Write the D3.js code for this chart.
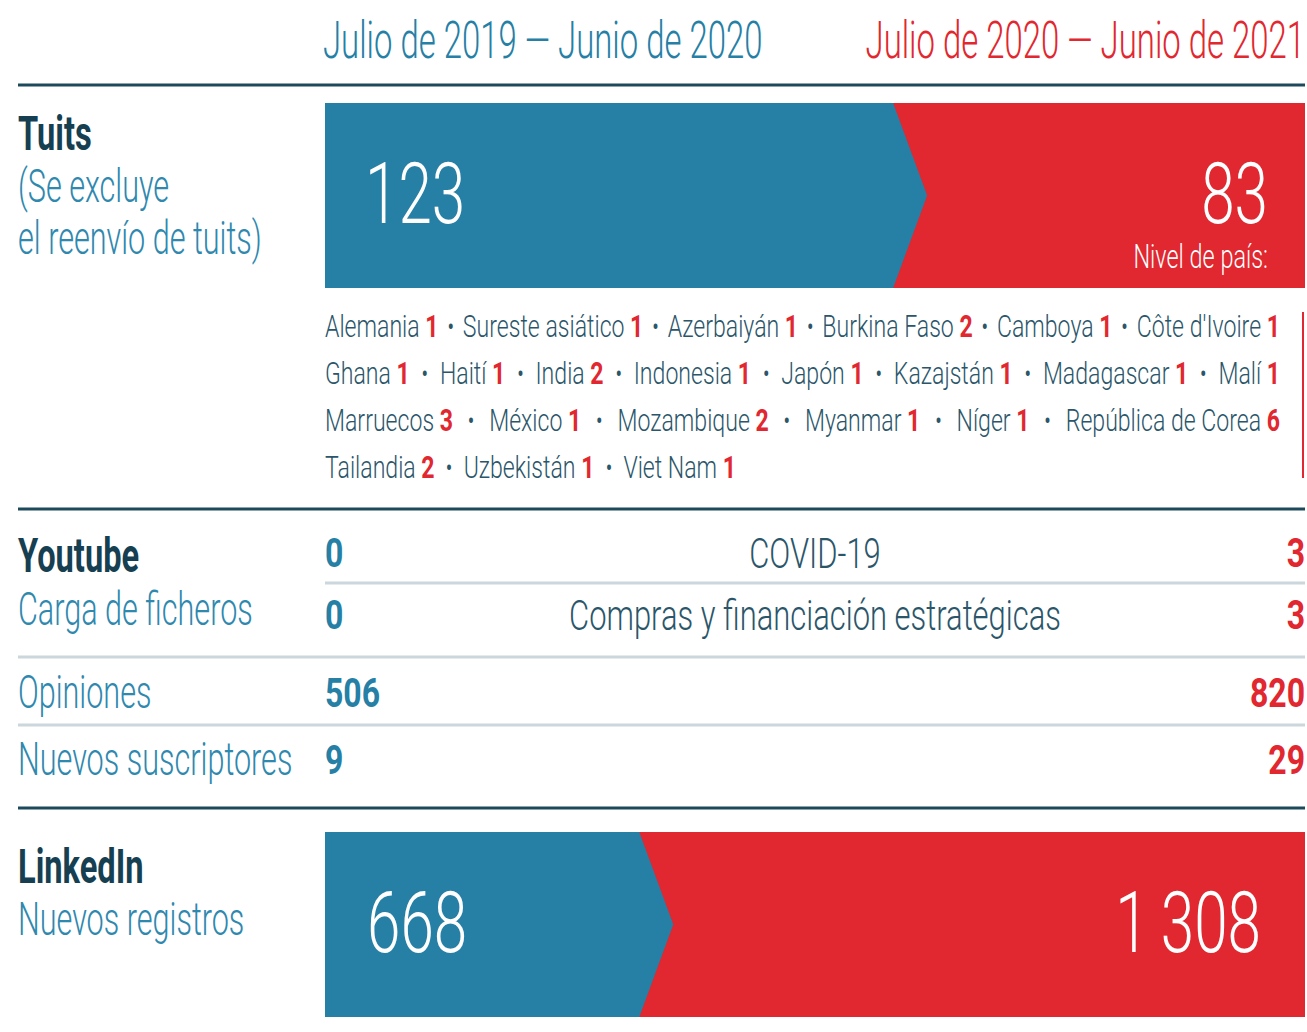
<!DOCTYPE html>
<html>
<head>
<meta charset="utf-8">
<script src="https://cdn.jsdelivr.net/npm/d3@7"></script>
<style>
  body { margin: 0; background: #fff; }
  svg { display: block; }
</style>
</head>
<body>
<svg id="chart"></svg>
<script>
// periods compared
var periods = ["Julio de 2019 — Junio de 2020", "Julio de 2020 — Junio de 2021"];

// Tuits
var tweetLabel = ["Tuits", "(Se excluye", "el reenvío de tuits)"];
var tweets = [123, 83];
var countries = ["Alemania", "Sureste asiático", "Azerbaiyán", "Burkina Faso", "Camboya", "Côte d'Ivoire",
	"Ghana", "Haití", "India", "Indonesia", "Japón", "Kazajstán", "Madagascar", "Malí",
	"Marruecos", "México", "Mozambique", "Myanmar", "Níger", "República de Corea",
	"Tailandia", "Uzbekistán", "Viet Nam"];
var countryCounts = [1, 1, 1, 2, 1, 1,
	1, 1, 2, 1, 1, 1, 1, 1,
	3, 1, 2, 1, 1, 6,
	2, 1, 1];
var countryRows = [6, 8, 6, 3];

// Youtube
var uploadTopics = ["COVID-19", "Compras y financiación estratégicas"];
var uploads = [[0, 3], [0, 3]];
var ytStats = ["Opiniones", "Nuevos suscriptores"];
var ytStatValues = [[506, 820], [9, 29]];

// LinkedIn
var linkedin = [668, 1308];

var colors = {
	"blue" : "#267fa5",
	"red" : "#e1272f",
	"dark" : "#163f51",
	"text" : "#2b566a",
	"label" : "#2f88ae",
	"rule" : "#1c4a5c",
	"thin" : "#cbd7dc"
};

var W = 1307, H = 1032;
var FONT = "Roboto, 'Noto Sans', sans-serif";
// horizontal squeeze per text kind, stands in for the condensed face
var sq = {
	"head" : 0.645,
	"bold" : 0.68,
	"label" : 0.665,
	"big" : 0.70,
	"list" : 0.745,
	"topic" : 0.72,
	"num" : 0.78,
	"note" : 0.69
};

var svg = d3.select("#chart").attr("width", W).attr("height", H);

var fmt = d3.formatLocale({ decimal: ",", thousands: "\u2009", grouping: [3], currency: ["", ""] }).format(",d");

// full width and the data columns
var left = 18, right = 1305, colX = 325;
var x = d3.scaleLinear().domain([0, 1]).range([colX, right]);

// condensed text: a squeezed group anchored at (px, py)
function ctext(parent, px, py, str, size, weight, clr, anchor, sx) {
	var g = parent.append("g")
		.attr("transform", "translate(" + px + "," + py + ") scale(" + sx + ",1)");
	var t = g.append("text")
		.attr("x", 0)
		.attr("y", 0)
		.attr("text-anchor", anchor || "start")
		.attr("font-family", FONT)
		.attr("font-size", size + "px")
		.attr("font-weight", weight)
		.style("fill", clr)
		.text(str);
	return t;
}

function rule(y, clr, sw, x0) {
	svg.append("line")
		.attr("x1", x0).attr("x2", right)
		.attr("y1", y).attr("y2", y)
		.attr("stroke", clr)
		.attr("stroke-width", sw);
}

// header
ctext(svg, colX - 2, 58, periods[0], 51, 300, colors.blue, "start", sq.head);
ctext(svg, right, 58, periods[1], 51, 300, colors.red, "end", sq.head);
rule(85, colors.rule, 3, left);

// chevron band: blue share vs red share
function band(y0, y1, vals) {
	var share = vals[0] / (vals[0] + vals[1]);
	var split = x(share);
	var ym = (y0 + y1) / 2, half = 17;
	svg.append("rect")
		.attr("x", x(0)).attr("y", y0)
		.attr("width", x(1) - x(0)).attr("height", y1 - y0)
		.style("fill", colors.red);
	svg.append("path")
		.attr("d", d3.line()([[x(0), y0], [split - half, y0], [split + half, ym], [split - half, y1], [x(0), y1]]) + "Z")
		.style("fill", colors.blue);
}

// Tuits
band(103, 288, tweets);
ctext(svg, left, 150, tweetLabel[0], 48, 700, colors.dark, "start", sq.bold);
ctext(svg, left, 202, tweetLabel[1], 46, 300, colors.label, "start", sq.label);
ctext(svg, left, 254, tweetLabel[2], 46, 300, colors.label, "start", sq.label);
ctext(svg, 365, 223, fmt(tweets[0]), 86, 300, "#fff", "start", sq.big);
ctext(svg, 1268, 223, fmt(tweets[1]), 86, 300, "#fff", "end", sq.big);
ctext(svg, 1268, 268, "Nivel de país:", 34, 300, "#fff", "end", sq.note);

// country list, justified rows
var listRight = 1280, rowGap = 47, firstBase = 337;
var natGap = 29;
var idx = 0;
countryRows.forEach(function(n, r) {
	var items = [];
	var yb = firstBase + r * rowGap;
	for (var k = 0; k < n; k++, idx++) {
		var t = ctext(svg, 0, yb, "", 31, 300, colors.text, "start", sq.list);
		t.append("tspan").text(countries[idx] + " ");
		t.append("tspan").attr("font-weight", 700).style("fill", colors.red).text(countryCounts[idx]);
		items.push({ node: t, w: t.node().getComputedTextLength() * sq.list });
	}
	var total = d3.sum(items, function(d) { return d.w; });
	var last = r === countryRows.length - 1;
	var gap = last ? natGap : (listRight - colX - total) / (n - 1);
	var cx = colX;
	items.forEach(function(d, k) {
		d3.select(d.node.node().parentNode)
			.attr("transform", "translate(" + cx + "," + yb + ") scale(" + sq.list + ",1)");
		cx += d.w;
		if (k < n - 1) {
			ctext(svg, cx + gap / 2, yb - 1, "•", 26, 400, colors.text, "middle", sq.list);
			cx += gap;
		}
	});
});
svg.append("line")
	.attr("x1", 1303).attr("x2", 1303)
	.attr("y1", 312).attr("y2", 478)
	.attr("stroke", colors.red)
	.attr("stroke-width", 2);

rule(509, colors.rule, 3, left);

// Youtube
ctext(svg, left, 572, "Youtube", 48, 700, colors.dark, "start", sq.bold);
ctext(svg, left, 625, "Carga de ficheros", 46, 300, colors.label, "start", sq.label);
var uploadBase = [567, 629];
uploadTopics.forEach(function(topic, i) {
	var yb = uploadBase[i];
	ctext(svg, colX, yb, fmt(uploads[i][0]), 41, 700, colors.blue, "start", sq.num);
	ctext(svg, x(0.5), yb + 1, topic, 43, 300, colors.text, "middle", sq.topic);
	ctext(svg, right, yb, fmt(uploads[i][1]), 41, 700, colors.red, "end", sq.num);
});
rule(583, colors.thin, 3, colX);
rule(657, colors.thin, 3, left);

var statBase = [708, 775];
ytStats.forEach(function(lbl, i) {
	var yb = statBase[i];
	ctext(svg, left, yb, lbl, 46, 300, colors.label, "start", sq.label);
	ctext(svg, colX, yb - 1, fmt(ytStatValues[i][0]), 41, 700, colors.blue, "start", sq.num);
	ctext(svg, right, yb - 1, fmt(ytStatValues[i][1]), 41, 700, colors.red, "end", sq.num);
});
rule(725, colors.thin, 3, left);
rule(808, colors.rule, 3, left);

// LinkedIn
band(832, 1017, linkedin);
ctext(svg, left, 883, "LinkedIn", 48, 700, colors.dark, "start", sq.bold);
ctext(svg, left, 935, "Nuevos registros", 46, 300, colors.label, "start", sq.label);
ctext(svg, 367, 952, fmt(linkedin[0]), 86, 300, "#fff", "start", sq.big);
ctext(svg, 1261, 952, fmt(linkedin[1]), 86, 300, "#fff", "end", sq.big);
</script>
</body>
</html>
